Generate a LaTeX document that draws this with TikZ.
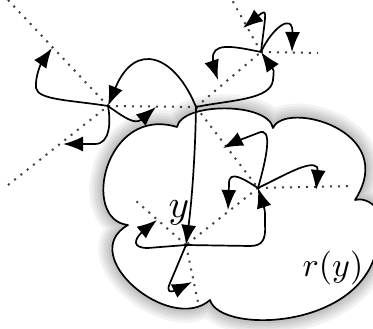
\documentclass[tikz,border=0pt]{standalone}
\usetikzlibrary{arrows.meta}
\tikzset{
  treeedge/.style={line width=2pt, black!75, dash pattern=on 2pt off 6pt},
  walk/.style={line width=1.7pt, line join=round},
  arr/.style={walk, -{Latex[length=20pt,width=15pt]}},
  cloudline/.style={line width=1.7pt, line join=round},
  lbl/.style={scale=3.4, inner sep=0pt},
  cloudoutline/.style={insert path={
    (177,127) .. controls (182,102) and (268,102) .. (273,128)
    .. controls (285,100) and (400,130) .. (355,200)
    .. controls (375,195) and (392,225) .. (378,240)
    .. controls (370,330) and (220,335) .. (210,300)
    .. controls (170,335) and (75,255) .. (128,225)
    .. controls (80,220) and (105,105) .. (177,127) -- cycle}},
}
\begin{document}
\begin{tikzpicture}[x=1pt,y=-1pt]
\useasboundingbox (0,0) rectangle (373,329);
% cloud with soft halo
\foreach \w in {28,22,17,12,7} \draw[line width=\w pt, black, opacity=0.05, cloudoutline];
\fill[white, cloudoutline];
\draw[cloudline, cloudoutline];
% tree vertices
\coordinate (A) at (108,106);
\coordinate (B) at (196,107);
\coordinate (C) at (261,52);
\coordinate (D) at (258,188);
\coordinate (E) at (186,245);
% leaves
\coordinate (L1) at (8,0);
\coordinate (L2) at (8,185);
\coordinate (L3) at (232,0);
\coordinate (L4) at (318,53);
\coordinate (L5) at (352,186);
\coordinate (L6) at (135,200);
\coordinate (L7) at (198,302);
% dotted tree
\draw[treeedge] (L1) -- (A);
\draw[treeedge] (L2) -- (A);
\draw[treeedge] (A) -- (B);
\draw[treeedge] (B) -- (C);
\draw[treeedge] (C) -- (L3);
\draw[treeedge] (C) -- (L4);
\draw[treeedge] (B) -- (D);
\draw[treeedge] (D) -- (L5);
\draw[treeedge] (D) -- (E);
\draw[treeedge] (E) -- (L6);
\draw[treeedge] (E) -- (L7);
% arrow tips (free ends)
\coordinate (a1) at (52,48);
\coordinate (a2) at (63,144);
\coordinate (a3) at (156,107);
\coordinate (c1) at (218,80);
\coordinate (c2) at (243,28);
\coordinate (c3) at (292,52);
\coordinate (d1) at (223,148);
\coordinate (d2) at (228,210);
\coordinate (d3) at (316,190);
\coordinate (e1) at (157,220);
\coordinate (e2) at (192,282);
% walk around A
\draw[arr] (A) .. controls (70,100) and (38,100) .. (36,88) .. controls (35,75) and (42,62) .. (a1);
\draw[arr] (A) .. controls (111,122) and (110,144) .. (95,144) -- (a2);
\draw[arr] (A) .. controls (125,118) and (135,125) .. (a3);
\draw[arr] (B) .. controls (175,55) and (135,40) .. (A);
% walk around C
\draw[arr] (B) .. controls (230,100) and (271,100) .. (273,80) .. controls (274,70) .. (C);
\draw[arr] (C) .. controls (232,46) and (211,42) .. (213,60) .. controls (214,68) .. (c1);
\draw[arr] (C) .. controls (266,10) and (268,8) .. (c2);
\draw[arr] (C) .. controls (272,28) and (293,12) .. (c3);
% walk down to E and D
\draw[arr] (B) .. controls (195,170) and (190,215) .. (E);
\draw[arr] (D) .. controls (266,160) and (274,125) .. (258,133) .. controls (245,138) and (235,142) .. (d1);
\draw[arr] (D) .. controls (245,180) and (228,168) .. (229,185) -- (d2);
\draw[arr] (D) .. controls (285,175) and (310,160) .. (317,167) .. controls (318,172) .. (d3);
\draw[arr] (E) -- (250,246) .. controls (262,246) and (266,240) .. (265,225) .. controls (265,210) .. (D);
\draw[arr] (E) -- (148,248) .. controls (132,248) and (134,240) .. (142,232) -- (e1);
\draw[arr] (E) -- (170,283) .. controls (166,292) and (170,293) .. (176,290) -- (e2);
% labels
\node[lbl, scale=1.15] (ylab) at (179,213) {$y$};
\node[lbl] (rlab) at (333,268) {$r(y)$};
\end{tikzpicture}
\end{document}
